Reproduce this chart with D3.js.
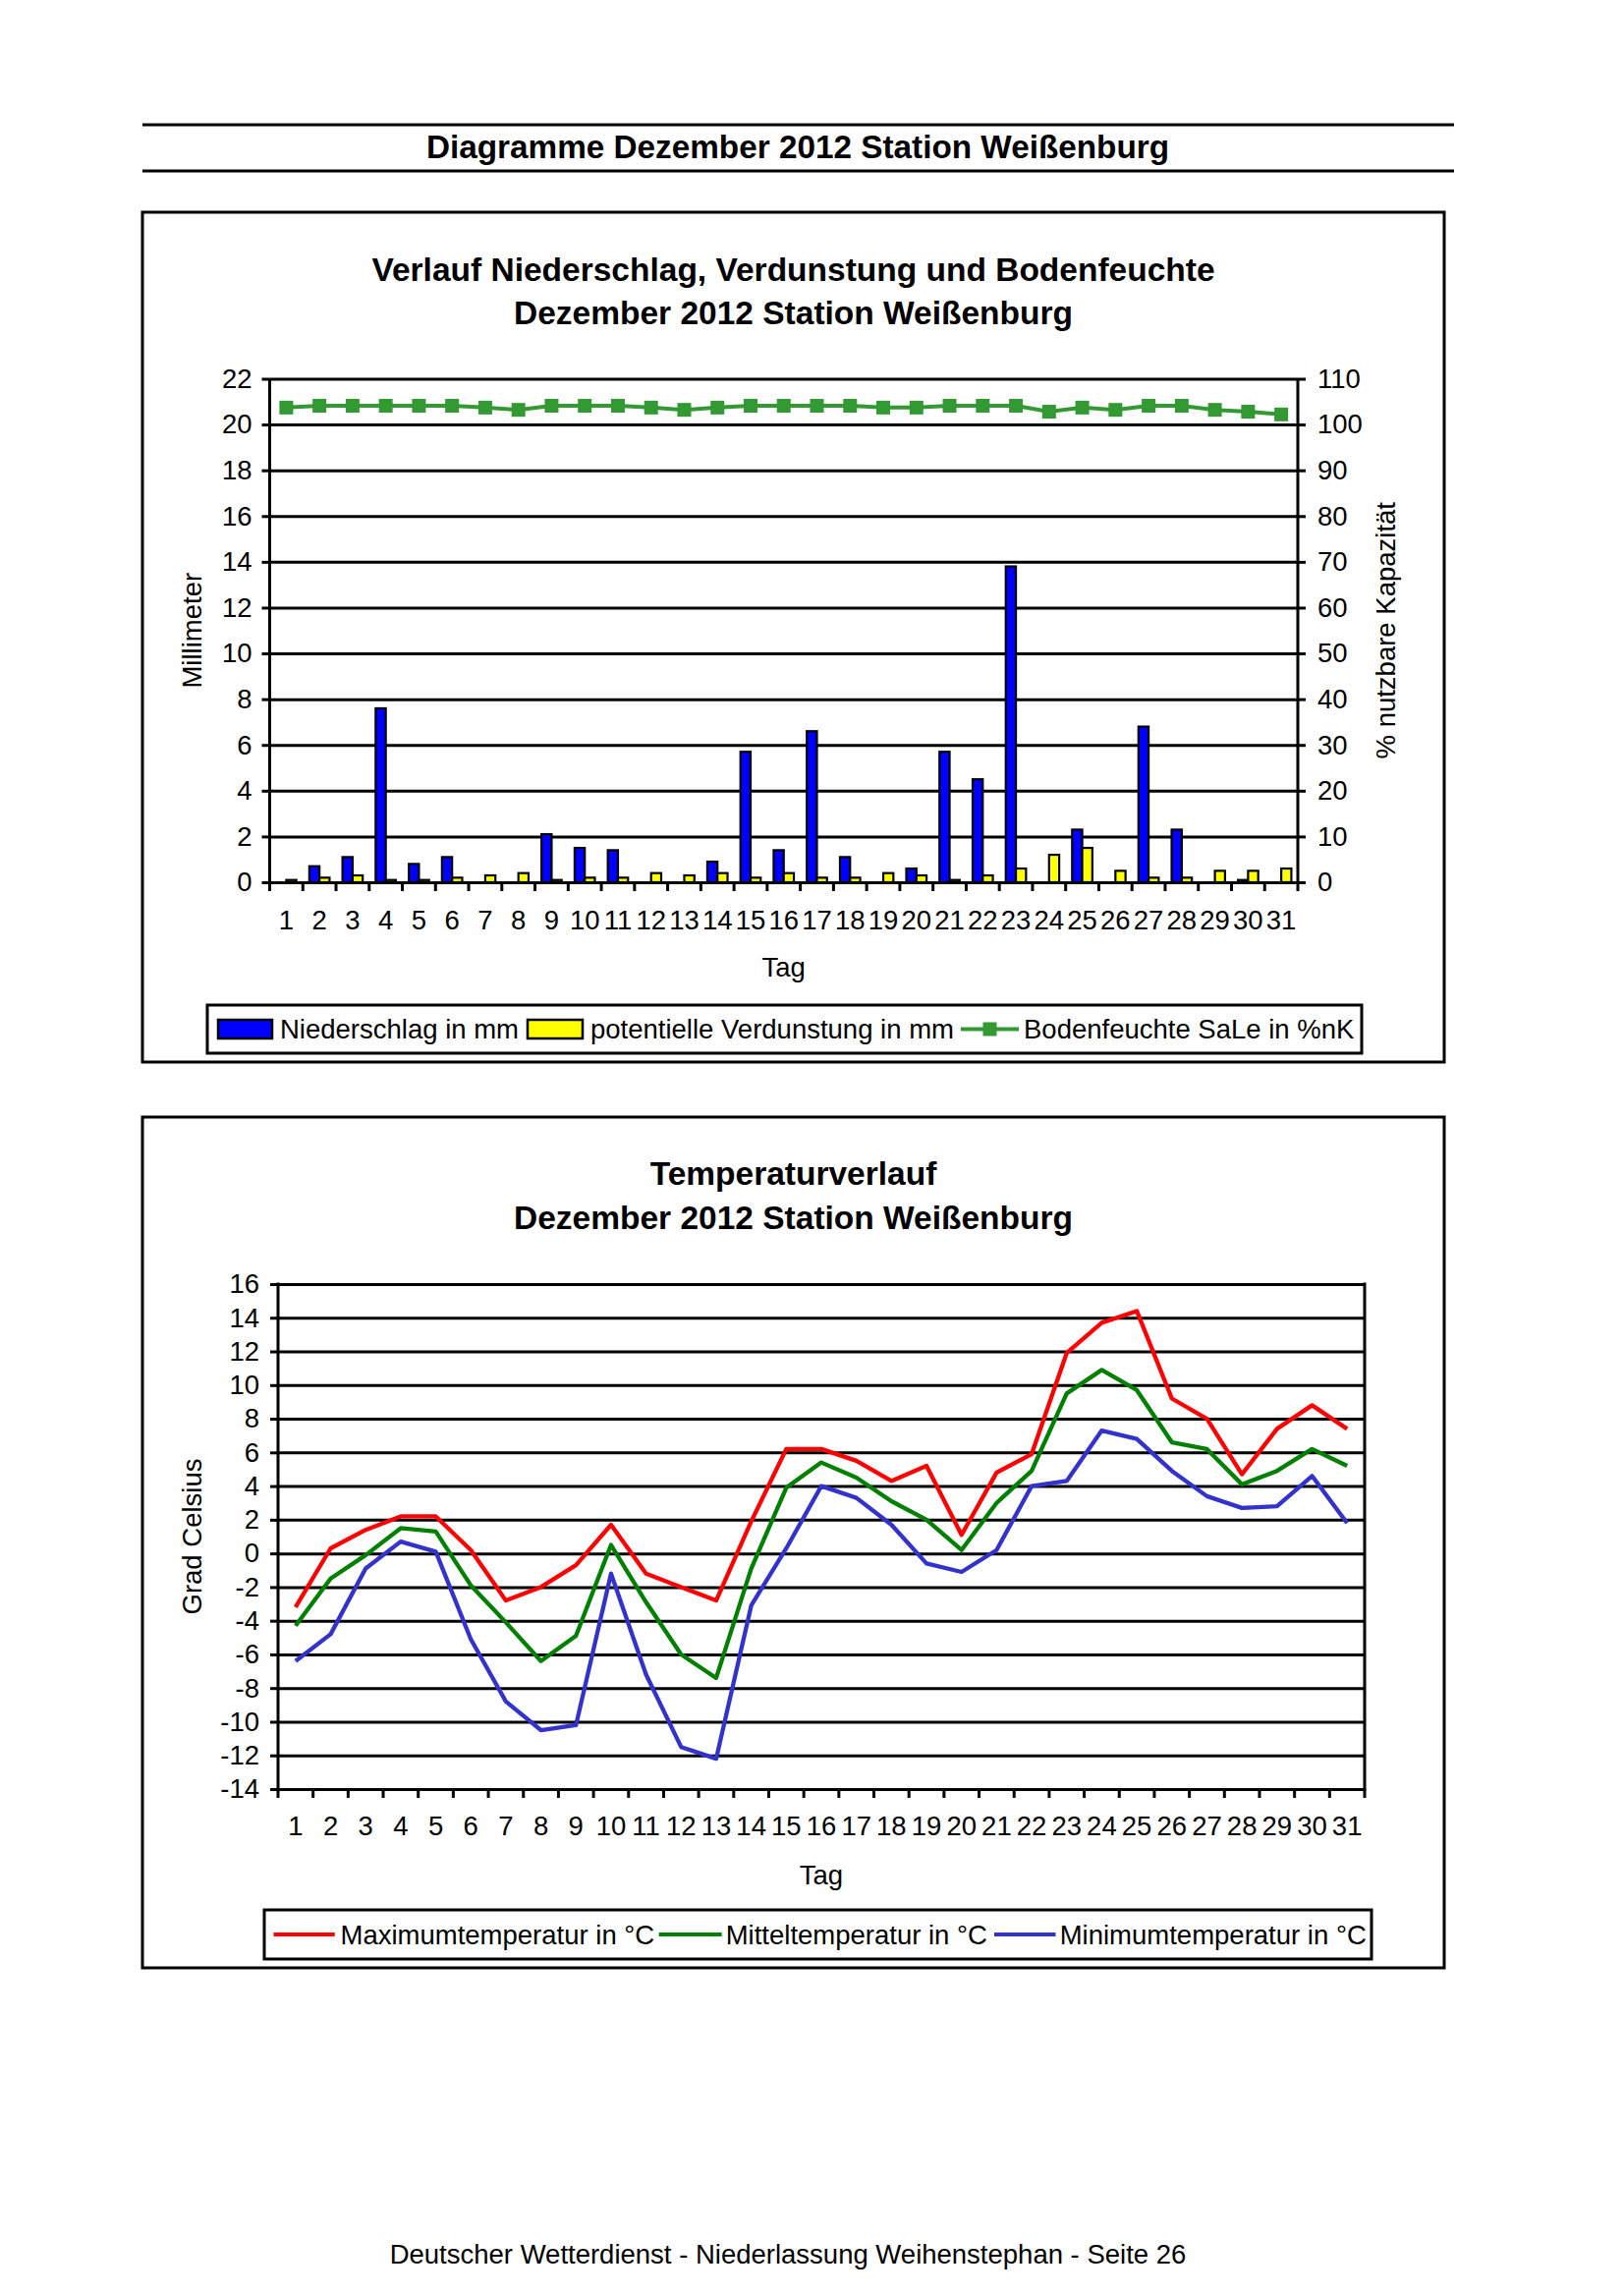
<!DOCTYPE html>
<html><head><meta charset="utf-8">
<script src="https://cdn.jsdelivr.net/npm/d3@7"></script>
<style>
body{margin:0;background:#fff;}
svg{display:block;font-family:"Liberation Sans",Arial,sans-serif;}
</style></head><body>
<svg id="c" width="1653" height="2337"></svg>
<script>
// ---------- data ----------
const days = d3.range(1, 32).map(String);
const niederschlag = [0.0, 0.7, 1.1, 7.6, 0.8, 1.1, 0.0, 0.0, 2.1, 1.5, 1.4, 0.0, 0.0, 0.9, 5.7, 1.4, 6.6, 1.1, 0.0, 0.6, 5.7, 4.5, 13.8, 0.0, 2.3, 0.0, 6.8, 2.3, 0.0, 0.1, 0.0];
const verdunstung = [0.1, 0.2, 0.3, 0.1, 0.1, 0.2, 0.3, 0.4, 0.1, 0.2, 0.2, 0.4, 0.3, 0.4, 0.2, 0.4, 0.2, 0.2, 0.4, 0.3, 0.1, 0.3, 0.6, 1.2, 1.5, 0.5, 0.2, 0.2, 0.5, 0.5, 0.6];
const bodenfeuchte = [103.7, 104.1, 104.1, 104.1, 104.1, 104.1, 103.7, 103.2, 104.1, 104.1, 104.1, 103.7, 103.2, 103.7, 104.1, 104.1, 104.1, 104.1, 103.7, 103.7, 104.1, 104.1, 104.1, 102.8, 103.7, 103.2, 104.1, 104.1, 103.2, 102.8, 102.2];
const tmax = [-3.2, 0.3, 1.4, 2.2, 2.2, 0.2, -2.8, -2.0, -0.7, 1.7, -1.2, -2.0, -2.8, 1.9, 6.2, 6.2, 5.5, 4.3, 5.2, 1.1, 4.8, 5.9, 11.9, 13.7, 14.4, 9.2, 8.0, 4.7, 7.4, 8.8, 7.4];
const tmean = [-4.3, -1.5, -0.1, 1.5, 1.3, -1.9, -4.1, -6.4, -4.9, 0.5, -2.9, -6.0, -7.4, -0.9, 3.9, 5.4, 4.5, 3.1, 2.0, 0.2, 3.0, 4.9, 9.5, 10.9, 9.7, 6.6, 6.2, 4.1, 4.9, 6.2, 5.2];
const tmin = [-6.4, -4.8, -0.9, 0.7, 0.1, -5.1, -8.8, -10.5, -10.2, -1.2, -7.2, -11.5, -12.2, -3.1, 0.3, 4.0, 3.3, 1.7, -0.6, -1.1, 0.2, 4.0, 4.3, 7.3, 6.8, 4.9, 3.4, 2.7, 2.8, 4.6, 1.8];
const mmTicks = d3.range(0, 23, 2);
const pctTicks = d3.range(0, 111, 10);
const tempTicks = d3.range(-14, 17, 2);

const pageTitle = "Diagramme Dezember 2012 Station Weißenburg";
const chart1Title = ["Verlauf Niederschlag, Verdunstung und Bodenfeuchte", "Dezember 2012 Station Weißenburg"];
const chart2Title = ["Temperaturverlauf", "Dezember 2012 Station Weißenburg"];
const legend1 = ["Niederschlag in mm", "potentielle Verdunstung in mm", "Bodenfeuchte SaLe in %nK"];
const legend2 = ["Maximumtemperatur in °C", "Mitteltemperatur in °C", "Minimumtemperatur in °C"];
const footer = "Deutscher Wetterdienst - Niederlassung Weihenstephan - Seite 26";

// ---------- page ----------
const svg = d3.select("#c");
const FS = 27.5;
const fmt = d => String(d);   // plain hyphen for negatives, as in the original
svg.append("rect").attr("width", 1653).attr("height", 2337).attr("fill", "#fff");

[127, 174].forEach(y => svg.append("line").attr("x1", 145).attr("x2", 1480).attr("y1", y).attr("y2", y)
  .attr("stroke", "#000").attr("stroke-width", 3));
svg.append("text").attr("x", 812).attr("y", 161).attr("text-anchor", "middle")
  .attr("font-weight", "bold").attr("font-size", 33.3).text(pageTitle);

svg.append("rect").attr("x", 145).attr("y", 216).attr("width", 1325).attr("height", 865)
  .attr("fill", "none").attr("stroke", "#000").attr("stroke-width", 3);
svg.append("rect").attr("x", 145).attr("y", 1137).attr("width", 1325).attr("height", 866)
  .attr("fill", "none").attr("stroke", "#000").attr("stroke-width", 3);

svg.append("text").attr("x", 802).attr("y", 2304).attr("text-anchor", "middle")
  .attr("font-size", FS).text(footer);

function styleAxis(g) {
  g.select(".domain").remove();
  g.selectAll("line").attr("stroke", "#000").attr("stroke-width", 3);
  g.selectAll("text").attr("font-size", FS).attr("fill", "#000")
    .attr("font-family", '"Liberation Sans", Arial, sans-serif');
}

// ---------- chart 1 ----------
(function () {
  const P = {l: 274.5, r: 1321, t: 385.5, b: 898};
  const x = d3.scaleBand().domain(days).range([P.l, P.r]).padding(0);
  const y = d3.scaleLinear().domain([0, 22]).range([P.b, P.t]);
  const yr = d3.scaleLinear().domain([0, 110]).range([P.b, P.t]);
  const sub = d3.scaleBand().domain(["n", "v"]).range([0, x.bandwidth()]).paddingInner(0).paddingOuter(0.64);
  const g = svg.append("g");

  g.append("g").attr("transform", `translate(${P.l},0)`)
    .call(d3.axisLeft(y).tickValues(mmTicks).tickFormat(fmt).tickSizeInner(-(P.r - P.l)).tickSizeOuter(0).tickPadding(18))
    .call(styleAxis);
  g.append("g").attr("transform", `translate(${P.l},0)`)
    .call(d3.axisLeft(y).tickValues(mmTicks).tickSize(8).tickFormat(""))
    .call(styleAxis);
  g.append("g").attr("transform", `translate(${P.r},0)`)
    .call(d3.axisRight(yr).tickValues(pctTicks).tickFormat(fmt).tickSize(8).tickPadding(12))
    .call(styleAxis);
  g.append("g").attr("transform", `translate(0,${P.b})`)
    .call(d3.axisBottom(x).tickSize(0).tickPadding(28))
    .call(styleAxis);
  const bounds = days.map(d => x(d)).concat([x.range()[1]]);
  g.append("g").selectAll("line").data(bounds).join("line")
    .attr("x1", d => d).attr("x2", d => d).attr("y1", P.b).attr("y2", P.b + 9)
    .attr("stroke", "#000").attr("stroke-width", 3);
  g.append("line").attr("x1", P.l).attr("x2", P.l).attr("y1", P.t).attr("y2", P.b + 1.5).attr("stroke", "#000").attr("stroke-width", 3);
  g.append("line").attr("x1", P.r).attr("x2", P.r).attr("y1", P.t).attr("y2", P.b + 1.5).attr("stroke", "#000").attr("stroke-width", 3);

  const bars = [];
  days.forEach((d, i) => {
    if (niederschlag[i] > 0) bars.push({d, k: "n", v: niederschlag[i]});
    if (verdunstung[i] > 0) bars.push({d, k: "v", v: verdunstung[i]});
  });
  g.append("g").selectAll("rect").data(bars).join("rect")
    .attr("x", b => x(b.d) + sub(b.k)).attr("width", sub.bandwidth())
    .attr("y", b => y(b.v)).attr("height", b => y(0) - y(b.v))
    .attr("fill", b => b.k === "n" ? "#0000ff" : "#ffff00")
    .attr("stroke", "#000").attr("stroke-width", 2.2);

  const pts = days.map((d, i) => ({d, v: bodenfeuchte[i]}));
  const cx = p => x(p.d) + x.bandwidth() / 2;
  g.append("path").datum(pts).attr("fill", "none").attr("stroke", "#339933").attr("stroke-width", 4)
    .attr("d", d3.line().x(cx).y(p => yr(p.v)));
  g.append("g").selectAll("rect").data(pts).join("rect")
    .attr("x", p => cx(p) - 7).attr("y", p => yr(p.v) - 7).attr("width", 14).attr("height", 14)
    .attr("fill", "#339933");

  chart1Title.forEach((t, i) => svg.append("text").attr("x", 807.5).attr("y", 286 + i * 44)
    .attr("text-anchor", "middle").attr("font-weight", "bold").attr("font-size", 33.5).text(t));
  svg.append("text").attr("x", (P.l + P.r) / 2).attr("y", 994).attr("text-anchor", "middle")
    .attr("font-size", FS).text("Tag");
  svg.append("text").attr("transform", `translate(195,${(P.t + P.b) / 2}) rotate(-90)`)
    .attr("text-anchor", "middle").attr("dy", "0.35em").attr("font-size", FS).text("Millimeter");
  svg.append("text").attr("transform", `translate(1410,${(P.t + P.b) / 2}) rotate(-90)`)
    .attr("text-anchor", "middle").attr("dy", "0.35em").attr("font-size", FS).text("% nutzbare Kapazität");

  const L = svg.append("g");
  L.append("rect").attr("x", 211).attr("y", 1023).attr("width", 1175).attr("height", 49)
    .attr("fill", "#fff").attr("stroke", "#000").attr("stroke-width", 3);
  const ly = 1047.5;
  L.append("rect").attr("x", 222).attr("y", ly - 9.5).attr("width", 55).attr("height", 19)
    .attr("fill", "#0000ff").attr("stroke", "#000").attr("stroke-width", 2.5);
  L.append("text").attr("x", 285).attr("y", ly).attr("dy", "0.35em").attr("font-size", FS).text(legend1[0]);
  L.append("rect").attr("x", 537).attr("y", ly - 9.5).attr("width", 56).attr("height", 19)
    .attr("fill", "#ffff00").attr("stroke", "#000").attr("stroke-width", 2.5);
  L.append("text").attr("x", 601).attr("y", ly).attr("dy", "0.35em").attr("font-size", FS).text(legend1[1]);
  L.append("line").attr("x1", 978).attr("x2", 1037).attr("y1", ly).attr("y2", ly)
    .attr("stroke", "#339933").attr("stroke-width", 4);
  L.append("rect").attr("x", 1000.5).attr("y", ly - 7).attr("width", 14).attr("height", 14).attr("fill", "#339933");
  L.append("text").attr("x", 1042).attr("y", ly).attr("dy", "0.35em").attr("font-size", FS).text(legend1[2]);
})();

// ---------- chart 2 ----------
(function () {
  const P = {l: 283, r: 1389, t: 1307, b: 1821};
  const x = d3.scaleBand().domain(days).range([P.l, P.r]).padding(0);
  const y = d3.scaleLinear().domain([-14, 16]).range([P.b, P.t]);
  const g = svg.append("g");

  g.append("g").attr("transform", `translate(${P.l},0)`)
    .call(d3.axisLeft(y).tickValues(tempTicks).tickFormat(fmt).tickSizeInner(-(P.r - P.l)).tickSizeOuter(0).tickPadding(19))
    .call(styleAxis);
  g.append("g").attr("transform", `translate(${P.l},0)`)
    .call(d3.axisLeft(y).tickValues(tempTicks).tickSize(8).tickFormat(""))
    .call(styleAxis);
  g.append("g").attr("transform", `translate(0,${P.b})`)
    .call(d3.axisBottom(x).tickSize(0).tickPadding(27))
    .call(styleAxis);
  const bounds = days.map(d => x(d)).concat([x.range()[1]]);
  g.append("g").selectAll("line").data(bounds).join("line")
    .attr("x1", d => d).attr("x2", d => d).attr("y1", P.b).attr("y2", P.b + 9)
    .attr("stroke", "#000").attr("stroke-width", 3);
  g.append("line").attr("x1", P.l).attr("x2", P.l).attr("y1", P.t - 1.5).attr("y2", P.b + 1.5).attr("stroke", "#000").attr("stroke-width", 3);
  g.append("line").attr("x1", P.r).attr("x2", P.r).attr("y1", P.t - 1.5).attr("y2", P.b + 1.5).attr("stroke", "#000").attr("stroke-width", 3);

  const cx = d => x(d) + x.bandwidth() / 2;
  const series = [
    {vals: tmax, color: "#ff0000"},
    {vals: tmean, color: "#008000"},
    {vals: tmin, color: "#3333cc"}
  ];
  series.forEach(s => {
    g.append("path").datum(days.map((d, i) => ({d, v: s.vals[i]})))
      .attr("fill", "none").attr("stroke", s.color).attr("stroke-width", 4.3).attr("stroke-linejoin", "round")
      .attr("d", d3.line().x(p => cx(p.d)).y(p => y(p.v)));
  });

  chart2Title.forEach((t, i) => svg.append("text").attr("x", 807.5).attr("y", 1206 + i * 45)
    .attr("text-anchor", "middle").attr("font-weight", "bold").attr("font-size", 33.5).text(t));
  svg.append("text").attr("x", (P.l + P.r) / 2).attr("y", 1918).attr("text-anchor", "middle")
    .attr("font-size", FS).text("Tag");
  svg.append("text").attr("transform", `translate(195,${(P.t + P.b) / 2}) rotate(-90)`)
    .attr("text-anchor", "middle").attr("dy", "0.35em").attr("font-size", FS).text("Grad Celsius");

  const L = svg.append("g");
  L.append("rect").attr("x", 269).attr("y", 1944).attr("width", 1127).attr("height", 50)
    .attr("fill", "#fff").attr("stroke", "#000").attr("stroke-width", 3);
  const ly = 1969;
  const items = [
    {x1: 278.5, x2: 340.7, tx: 346.5, c: "#ff0000", t: legend2[0]},
    {x1: 670.7, x2: 734.6, tx: 738.7, c: "#008000", t: legend2[1]},
    {x1: 1012, x2: 1074.5, tx: 1078.7, c: "#3333cc", t: legend2[2]}
  ];
  items.forEach(it => {
    L.append("line").attr("x1", it.x1).attr("x2", it.x2).attr("y1", ly).attr("y2", ly)
      .attr("stroke", it.c).attr("stroke-width", 4);
    L.append("text").attr("x", it.tx).attr("y", ly).attr("dy", "0.35em").attr("font-size", FS).text(it.t);
  });
})();
</script>
</body></html>
